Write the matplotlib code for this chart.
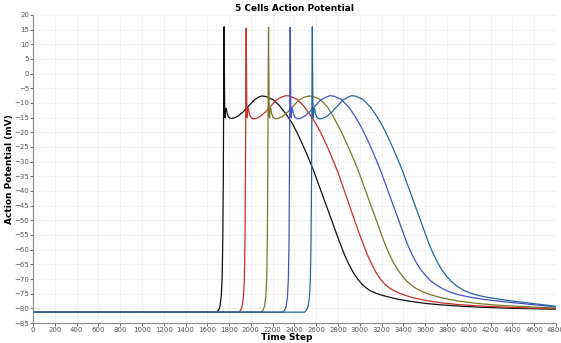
import matplotlib.pyplot as plt

# time steps / membrane potential, one pair per cell
t_cell1 = [0, 1680, 1700, 1715, 1728, 1736, 1742, 1747, 1751, 1754, 1757, 1760, 1764, 1768, 1774,
           1782, 1795, 1815, 1840, 1880, 1930, 1980, 2030, 2070, 2100, 2140, 2200, 2260, 2320,
           2380, 2420, 2460, 2500, 2540, 2580, 2620, 2665, 2700, 2740, 2780, 2820, 2860, 2900,
           2940, 2980, 3020, 3060, 3100, 3150, 3200, 3250, 3350, 3460, 3600, 3735, 3900, 4100,
           4400, 4800]
v_cell1 = [-81.3, -81.3, -80.8, -79.5, -76, -70, -57, -35, 0, 16, 0, -14.5, -15, -12, -11.8,
           -13.5, -14.8, -15.3, -15.2, -14.5, -13, -11, -9, -8, -7.6, -7.8, -8.8, -10.8, -13.6,
           -17, -19.8, -23, -26.3, -29.8, -33.5, -37.6, -42.2, -45.8, -49.8, -54, -58, -61.8, -65,
           -67.8, -70, -71.8, -73.1, -74.1, -74.9, -75.5, -76, -76.9, -77.6, -78.3, -78.8, -79.2, -79.6,
           -80, -80.3]

t_cell2 = [0, 1888, 1905, 1920, 1932, 1940, 1946, 1950, 1954, 1957, 1960, 1963, 1967, 1971, 1977,
           1985, 1998, 2020, 2045, 2085, 2135, 2185, 2235, 2280, 2322, 2360, 2420, 2480, 2540,
           2600, 2640, 2680, 2720, 2760, 2800, 2840, 2875, 2910, 2950, 2990, 3030, 3070, 3110,
           3150, 3190, 3230, 3270, 3310, 3360, 3420, 3490, 3560, 3650, 3763, 3900, 4100, 4400,
           4800]
v_cell2 = [-81.3, -81.3, -80.7, -79.3, -76, -70, -57, -35, 0, 15.5, 0, -14.5, -15, -12, -11.8,
           -13.5, -14.8, -15.4, -15.3, -14.6, -13, -11, -9, -8, -7.5, -7.7, -8.7, -10.8, -13.8,
           -17.3, -20, -23.2, -26.5, -30, -33.8, -38, -41.8, -45.5, -49.8, -54, -58, -61.8, -65,
           -67.9, -70.1, -71.8, -73, -73.9, -74.8, -75.6, -76.4, -77, -77.6, -78.2, -78.7, -79.2, -79.7,
           -80.1]

t_cell3 = [0, 2093, 2110, 2125, 2137, 2145, 2151, 2155, 2159, 2162, 2165, 2168, 2172, 2176, 2182,
           2190, 2203, 2225, 2250, 2290, 2340, 2390, 2440, 2490, 2536, 2575, 2635, 2700, 2750,
           2790, 2830, 2870, 2910, 2950, 2990, 3030, 3075, 3110, 3150, 3190, 3230, 3270, 3310,
           3350, 3390, 3430, 3470, 3520, 3580, 3650, 3720, 3800, 3900, 4072, 4250, 4500, 4800]
v_cell3 = [-81.3, -81.3, -80.7, -79.3, -76, -70, -57, -35, 0, 15.8, 0, -14.5, -15, -12, -11.8,
           -13.5, -14.8, -15.4, -15.3, -14.6, -13, -11, -9, -8, -7.6, -7.8, -8.8, -11.2, -14.2,
           -17, -19.8, -23, -26.3, -29.8, -33.5, -37.6, -42.2, -45.8, -49.8, -54, -58, -61.5, -64.5,
           -67, -69, -70.7, -72, -73.3, -74.4, -75.4, -76.1, -76.8, -77.5, -78.3, -78.9, -79.4, -79.9]

t_cell4 = [0, 2292, 2309, 2324, 2336, 2344, 2350, 2354, 2358, 2361, 2364, 2367, 2371, 2375, 2381,
           2389, 2402, 2425, 2450, 2490, 2540, 2590, 2640, 2690, 2726, 2765, 2830, 2900, 2950,
           2995, 3035, 3075, 3115, 3155, 3195, 3235, 3280, 3315, 3355, 3395, 3435, 3475, 3515,
           3555, 3600, 3650, 3700, 3760, 3830, 3910, 4011, 4150, 4286, 4500, 4800]
v_cell4 = [-81.3, -81.3, -80.7, -79.3, -76, -70, -57, -35, 0, 15.8, 0, -14.5, -15, -12, -11.8,
           -13.5, -14.8, -15.4, -15.3, -14.6, -13, -11, -9, -8, -7.5, -7.7, -8.8, -11.5, -14.2,
           -17, -19.8, -23, -26.3, -29.8, -33.5, -37.6, -42.2, -45.8, -49.8, -54, -58, -61.3, -64.2,
           -66.6, -68.7, -70.6, -72, -73.3, -74.5, -75.4, -76.2, -77, -77.6, -78.4, -79.5]

t_cell5 = [0, 2493, 2510, 2525, 2538, 2546, 2552, 2557, 2561, 2564, 2567, 2570, 2574, 2578, 2584,
           2592, 2605, 2628, 2655, 2695, 2745, 2795, 2845, 2890, 2925, 2965, 3030, 3100, 3150,
           3195, 3235, 3275, 3315, 3355, 3395, 3435, 3480, 3515, 3555, 3595, 3635, 3675, 3715,
           3755, 3795, 3840, 3890, 3950, 4020, 4100, 4164, 4300, 4439, 4600, 4800]
v_cell5 = [-81.3, -81.3, -80.7, -79.3, -76, -70, -57, -35, 0, 16, 0, -14.5, -15, -12, -11.8,
           -13.5, -14.8, -15.4, -15.3, -14.6, -13, -11, -9, -8, -7.5, -7.7, -8.8, -11.5, -14.2,
           -17, -19.8, -23, -26.3, -29.8, -33.5, -37.6, -42.2, -45.8, -49.8, -54, -58, -61.5, -64.5,
           -67, -69, -70.8, -72.4, -73.8, -74.9, -75.7, -76.2, -77, -77.7, -78.4, -79.3]

colors = ['#111111', '#c4302b', '#7c7628', '#4552c4', '#24679a']
cells = [(t_cell1, v_cell1), (t_cell2, v_cell2), (t_cell3, v_cell3),
         (t_cell4, v_cell4), (t_cell5, v_cell5)]

fig = plt.figure(figsize=(5.61, 3.43), dpi=100)
ax = fig.add_axes([0.0588, 0.0583, 0.9322, 0.8980])

for (t, v), c in zip(cells, colors):
    ax.plot(t, v, color=c, linewidth=0.9)

ax.set_xlim(0, 4800)
ax.set_ylim(-85, 20)
ax.set_xticks(range(0, 4801, 200))
ax.set_yticks(range(-85, 21, 5))
ax.grid(True, color='#f0f0f0', linewidth=0.6)
ax.set_axisbelow(True)

for side in ['top', 'right']:
    ax.spines[side].set_visible(False)
for side in ['left', 'bottom']:
    ax.spines[side].set_color('#888888')
    ax.spines[side].set_linewidth(0.8)
ax.tick_params(labelsize=5, colors='#555555', length=2, width=0.6, pad=0.8)

ax.set_title('5 Cells Action Potential', fontsize=6.5, fontweight='bold', pad=3)
ax.set_xlabel('Time Step', fontsize=6.5, fontweight='bold')
ax.set_ylabel('Action Potential (mV)', fontsize=6.5, fontweight='bold')
ax.xaxis.set_label_coords(0.486, -0.034)
ax.yaxis.set_label_coords(-0.036, 0.5)

fig.savefig('out.png', dpi=100)
